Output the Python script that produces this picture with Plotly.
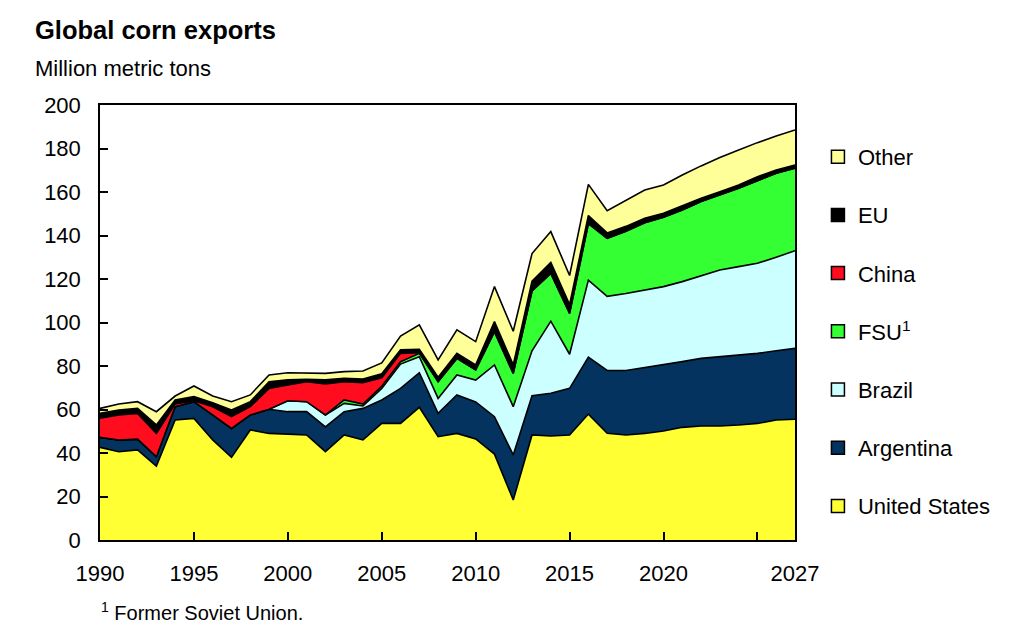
import plotly.graph_objects as go

years = list(range(1990, 2028))

united_states = [42.6, 40.6, 41.4, 34.0, 55.2, 55.9, 46.0, 38.0, 50.6, 49.0,
                 48.7, 48.3, 40.6, 48.3, 46.0, 53.6, 53.6, 61.0, 47.5, 49.0,
                 46.5, 39.5, 18.4, 48.3, 47.8, 48.3, 57.9, 49.1, 48.3, 49.0,
                 50.1, 51.8, 52.4, 52.4, 52.9, 53.6, 55.2, 55.5]
argentina = [4.6, 5.4, 5.0, 4.3, 6.1, 7.7, 11.5, 13.3, 6.9, 11.1,
             10.3, 10.7, 11.4, 10.7, 14.5, 10.8, 16.1, 15.9, 10.7, 17.7,
             17.0, 17.2, 20.7, 18.0, 19.7, 21.4, 26.2, 28.9, 29.6, 30.2,
             30.4, 30.2, 31.1, 31.9, 32.2, 32.2, 31.8, 32.6]
brazil = [0, 0, 0, 0, 0, 0, 0, 0, 0, 0,
          5.0, 4.6, 5.5, 3.8, 1.1, 5.3, 11.2, 7.4, 6.9, 9.2,
          10.0, 23.8, 22.2, 20.7, 33.1, 15.7, 35.4, 34.0, 35.4, 35.7,
          36.0, 36.8, 37.9, 39.8, 40.6, 41.4, 43.0, 44.9]
fsu = [0, 0, 0, 0, 0, 0, 0, 0, 0, 0,
       0, 0, 0, 1.6, 0.9, 1.0, 1.1, 1.5, 7.7, 7.6,
       4.7, 15.3, 15.3, 27.5, 22.0, 18.8, 26.0, 26.7, 28.7, 31.0,
       31.9, 32.9, 34.2, 34.5, 36.0, 38.0, 38.6, 37.9]
china = [8.8, 11.5, 11.8, 10.7, 1.2, 0.4, 3.8, 5.4, 3.8, 9.6,
         7.3, 9.2, 14.2, 8.4, 9.8, 3.9, 3.8, 0.3, 0, 0,
         0, 0, 0, 0, 0, 0, 0, 0, 0, 0,
         0, 0, 0, 0, 0, 0, 0, 0]
eu = [2.2, 2.3, 2.3, 3.9, 1.9, 1.9, 1.8, 3.1, 2.3, 3.1,
      2.3, 1.1, 1.9, 1.5, 1.7, 1.8, 1.6, 1.6, 2.0, 2.3,
      2.3, 4.6, 3.9, 4.5, 5.0, 4.0, 3.7, 2.5, 2.2, 2.0,
      1.8, 1.9, 1.5, 1.5, 1.5, 1.8, 1.5, 1.5]
other = [2.3, 2.7, 3.1, 6.1, 1.8, 4.9, 3.1, 3.8, 3.1, 3.1,
         3.3, 3.0, 3.0, 3.1, 3.7, 5.0, 6.4, 11.2, 8.0, 10.8,
         10.7, 16.1, 15.5, 12.7, 14.2, 13.4, 14.3, 10.2, 11.8, 13.0,
         13.0, 14.2, 14.9, 15.8, 16.1, 15.7, 15.6, 16.1]

series = [
    ("United States", united_states, "#FFFF33"),
    ("Argentina", argentina, "#04335F"),
    ("Brazil", brazil, "#CCFFFF"),
    ("FSU<sup>1</sup>", fsu, "#33FF33"),
    ("China", china, "#FF0D1E"),
    ("EU", eu, "#000000"),
    ("Other", other, "#FFFF99"),
]

x_tickvals = [1990, 1995, 2000, 2005, 2010, 2015, 2020, 2025, 2027]
x_ticktext = ["1990", "1995", "2000", "2005", "2010", "2015", "2020", " ", "2027"]
y_tickvals = list(range(0, 201, 20))

FONT = "Liberation Sans, Arial, sans-serif"

fig = go.Figure()
for name, vals, color in series:
    fig.add_trace(go.Scatter(
        x=years, y=vals, name=name, mode="lines",
        stackgroup="one", fillcolor=color,
        line=dict(color="black", width=1.6),
        showlegend=False,
        hoverinfo="x+y+name",
    ))

# legend entries (square swatches), top to bottom: Other ... United States
for i, (name, vals, color) in enumerate(reversed(series)):
    fig.add_trace(go.Scatter(
        x=[None], y=[None], mode="markers", name=name,
        marker=dict(symbol="square", size=13, color=color,
                    line=dict(color="black", width=1.5)),
        legendgroup=f"g{i}", showlegend=True, hoverinfo="skip",
    ))

fig.update_layout(
    width=1016, height=623,
    paper_bgcolor="white", plot_bgcolor="white",
    margin=dict(l=92, r=229, t=97, b=91),
    font=dict(family=FONT, size=22, color="black"),
    showlegend=True,
    legend=dict(
        traceorder="grouped",
        tracegroupgap=26.6,
        x=1.033, xanchor="left", y=0.929, yanchor="top",
        font=dict(size=22, family=FONT),
        itemwidth=30,
        bgcolor="rgba(0,0,0,0)",
    ),
    xaxis=dict(
        range=[1990, 2027], tickvals=x_tickvals, ticktext=x_ticktext,
        ticks="inside", ticklen=8, tickwidth=1.5, tickcolor="black",
        showline=True, linecolor="black", linewidth=1.5, mirror=True,
        showgrid=False, zeroline=False,
        ticklabelstandoff=13,
        tickfont=dict(size=22, family=FONT),
    ),
    yaxis=dict(
        range=[0, 200], tickvals=y_tickvals,
        ticks="inside", ticklen=8, tickwidth=1.5, tickcolor="black",
        showline=True, linecolor="black", linewidth=1.5, mirror=True,
        showgrid=False, zeroline=False,
        ticklabelstandoff=13,
        tickfont=dict(size=22, family=FONT),
    ),
    annotations=[
        dict(text="<b>Global corn exports</b>", xref="paper", yref="paper",
             x=-0.0964, y=1.0, xanchor="left", yanchor="middle",
             yshift=75, showarrow=False, font=dict(size=25.5, family=FONT)),
        dict(text="Million metric tons", xref="paper", yref="paper",
             x=-0.0964, y=1.0, xanchor="left", yanchor="middle",
             yshift=37, showarrow=False, font=dict(size=22, family=FONT)),
        dict(text="<sup>1</sup> Former Soviet Union.", xref="paper", yref="paper",
             x=-0.001, y=0.0, xanchor="left", yanchor="middle",
             yshift=-71, showarrow=False, font=dict(size=20, family=FONT)),
    ],
)

fig.write_html("out.html")
